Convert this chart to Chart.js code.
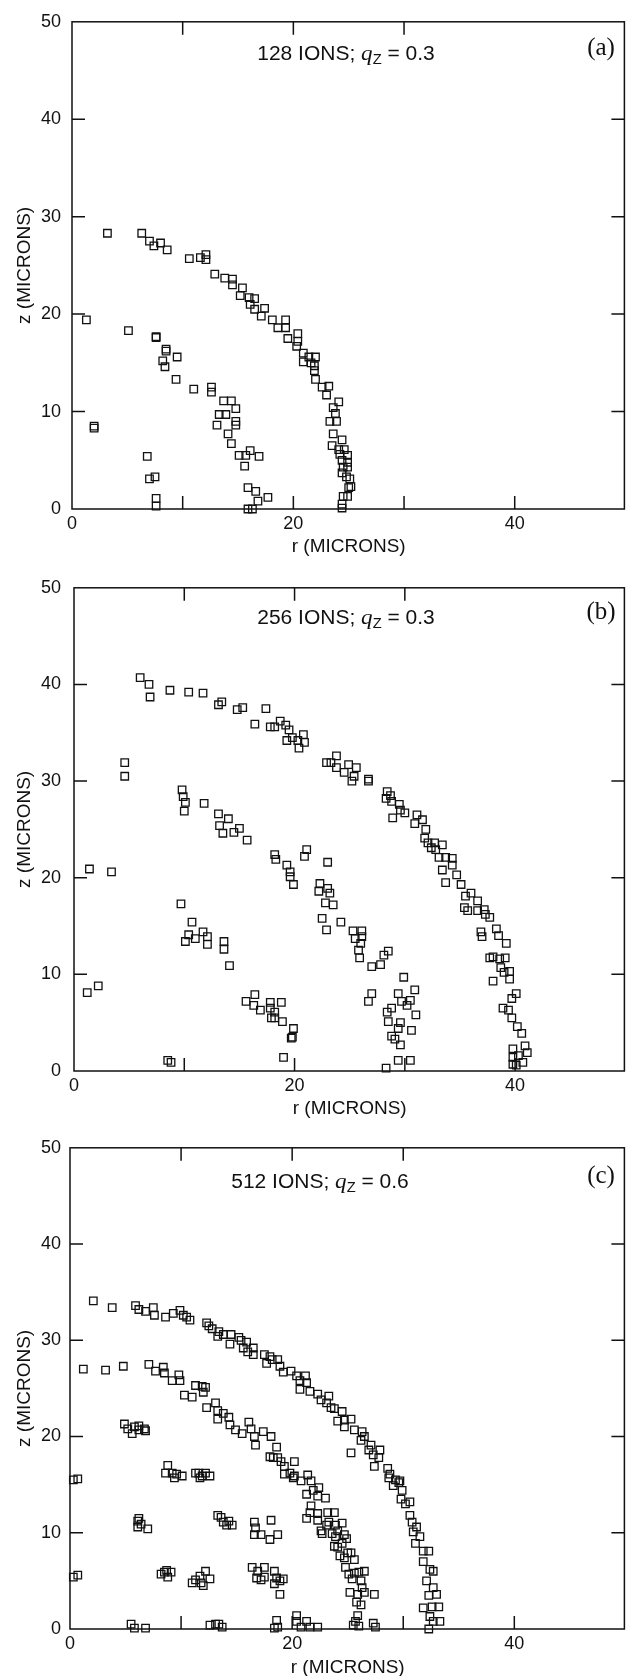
<!DOCTYPE html>
<html>
<head>
<meta charset="utf-8">
<script src="https://cdn.jsdelivr.net/npm/chart.js@4.4.1/dist/chart.umd.min.js"></script>
<style>
    html, body { margin: 0; padding: 0; background: #fff; }
    #page { position: relative; width: 632px; height: 1676px; overflow: hidden; }
    #page canvas { position: absolute; left: 0; }
    .ttl {
        position: absolute; white-space: nowrap; color: #111;
        font: 20px "Liberation Sans", Arial, sans-serif;
        transform: translate(-50%, -50%) scaleX(1.05);
    }
    .ttl i { font-family: "Liberation Serif", serif; font-size: 22px; }
    .ttl sub { font-size: 14px; vertical-align: -4px; }
    .tag {
        position: absolute; color: #111;
        font: 25px "Liberation Serif", serif;
        transform: translate(-50%, -50%);
    }
</style>
</head>
<body>
<div id="page"></div>
<script>
// ion positions [r, z] in microns
const ionsA = [
    [6.3, 28.3], [7.0, 27.5], [7.4, 27.0], [8.0, 27.3], [8.6, 26.6], [10.6, 25.7], [11.6, 25.8],
    [12.1, 26.1], [12.1, 25.6], [12.9, 24.1], [13.8, 23.7], [14.5, 23.6], [14.5, 23.0], [15.4, 22.7],
    [15.2, 21.9], [16.0, 21.7], [16.5, 21.6], [16.1, 21.0], [16.5, 20.5], [17.4, 20.6], [17.1, 19.8],
    [18.1, 19.4], [18.6, 18.6], [19.3, 19.4], [19.3, 18.6], [19.5, 17.5], [20.4, 18.0], [20.4, 17.2],
    [20.3, 16.7], [20.9, 16.0], [20.9, 15.1], [21.4, 15.6], [21.6, 15.0], [22.0, 15.6], [21.9, 14.7],
    [21.9, 14.2], [22.0, 13.3], [22.6, 12.5], [23.2, 12.6], [23.0, 11.7], [23.6, 10.4], [24.1, 11.0],
    [23.8, 9.8], [23.3, 9.0], [23.9, 9.0], [23.6, 7.7], [24.4, 7.1], [23.5, 6.5], [24.1, 6.1],
    [24.2, 5.6], [24.6, 6.1], [24.9, 5.5], [24.4, 5.0], [24.5, 4.3], [24.9, 4.8], [24.9, 4.3],
    [24.4, 3.7], [24.8, 3.3], [25.1, 3.1], [25.2, 2.3], [25.0, 2.2], [24.5, 1.3], [24.9, 1.3],
    [24.4, 0.5], [24.4, 0.1],
    [1.3, 19.4], [5.1, 18.3], [7.6, 17.7], [7.6, 17.6], [8.5, 16.4], [8.5, 16.2], [9.5, 15.6],
    [8.2, 15.2], [8.4, 14.6], [9.4, 13.3], [11.0, 12.3], [12.6, 12.5], [12.6, 12.0], [13.7, 11.1],
    [14.4, 11.1], [14.8, 10.3], [13.3, 9.7], [13.9, 9.7], [13.1, 8.6], [14.8, 9.0], [14.8, 8.6],
    [14.1, 7.7], [14.4, 6.7], [15.1, 5.5], [15.7, 5.5], [16.1, 6.0], [16.9, 5.4], [15.6, 4.4],
    [15.9, 2.2], [16.6, 1.8], [16.8, 0.8], [17.7, 1.2], [15.9, 0.0], [16.3, 0.0],
    [2.0, 8.5], [2.0, 8.3], [6.8, 5.4], [7.0, 3.1], [7.5, 3.3], [7.6, 1.1], [7.6, 0.3], [3.2, 28.3]
];

const ionsB = [
    [6.0, 40.7], [6.8, 40.0], [6.9, 38.7], [8.7, 39.4], [10.4, 39.2], [11.7, 39.1], [13.1, 37.9],
    [13.4, 38.2], [14.8, 37.4], [15.3, 37.6], [16.4, 35.9], [17.4, 37.5], [17.8, 35.6], [18.2, 35.6],
    [18.7, 36.2], [19.2, 35.8], [19.5, 35.3], [19.3, 34.2], [19.8, 34.5], [20.3, 34.2], [20.8, 34.8],
    [20.9, 34.0], [20.4, 33.4], [22.9, 31.9], [23.3, 31.9], [23.8, 32.6], [23.8, 31.4], [24.5, 30.9],
    [24.9, 31.7], [25.6, 31.4], [25.4, 30.5], [25.2, 30.0], [26.7, 30.0], [26.7, 30.2], [28.4, 28.9],
    [28.7, 28.5], [28.3, 28.2], [28.8, 27.9], [29.5, 27.6], [29.6, 27.0], [28.9, 26.2], [30.0, 26.7],
    [31.1, 26.5], [30.9, 25.6], [31.6, 26.0], [31.9, 25.0], [31.8, 24.1], [32.1, 23.6], [32.7, 23.6],
    [32.4, 23.1], [32.8, 22.9], [33.4, 23.4], [33.1, 22.1], [33.7, 22.1], [34.3, 22.0], [34.3, 21.3],
    [33.4, 20.8], [33.7, 19.5], [34.7, 20.3], [35.1, 19.3], [35.5, 18.1], [36.0, 18.4], [35.4, 16.9],
    [35.7, 16.6], [36.6, 16.6], [36.6, 17.6], [37.2, 16.7], [37.3, 16.2], [37.7, 15.9], [36.9, 14.4],
    [37.0, 13.9], [38.3, 14.7], [38.5, 14.0], [39.2, 13.2], [37.7, 11.7], [38.0, 11.8], [38.6, 11.6],
    [39.1, 11.7], [38.7, 10.7], [39.0, 10.2], [39.5, 10.3], [39.5, 9.5], [38.0, 9.3], [39.7, 7.5],
    [38.9, 6.5], [39.4, 6.3], [39.7, 5.5], [39.8, 2.3], [39.8, 1.4], [39.8, 0.7], [40.1, 8.0],
    [40.2, 4.6], [40.6, 3.9], [40.9, 2.6], [40.3, 1.6], [41.1, 1.9], [40.1, 0.6], [40.7, 0.9],
    [4.6, 31.9], [4.6, 30.5], [9.8, 29.1], [9.9, 28.4], [10.1, 27.8], [10.0, 26.9], [11.8, 27.7],
    [13.1, 26.6], [13.2, 25.4], [13.5, 24.6], [14.0, 26.1], [14.5, 24.7], [15.0, 25.1], [15.7, 23.9],
    [18.2, 22.4], [18.3, 21.9], [19.3, 21.3], [19.6, 20.6], [19.6, 20.1], [19.9, 19.3], [20.9, 22.2],
    [21.1, 22.9], [23.0, 21.6], [22.3, 19.4], [22.2, 18.6], [23.0, 18.9], [23.2, 18.4], [22.8, 17.4],
    [23.5, 17.2], [22.5, 15.8], [22.9, 14.6], [24.2, 15.4], [25.3, 14.5], [26.1, 14.5], [25.5, 13.7],
    [26.1, 13.9], [26.0, 13.2], [25.8, 12.5], [25.9, 11.7], [27.0, 10.8], [27.8, 11.0], [28.1, 12.0],
    [28.5, 12.4], [29.9, 9.7], [30.9, 8.4], [27.0, 8.0], [26.7, 7.2], [28.4, 6.1], [28.8, 6.5],
    [29.4, 8.0], [29.7, 7.2], [30.2, 6.8], [30.5, 7.3], [31.0, 5.8], [28.5, 5.1], [29.6, 5.0],
    [29.4, 4.4], [30.6, 4.2], [28.8, 3.6], [29.1, 3.3], [29.6, 2.7], [29.4, 1.1], [30.5, 1.1],
    [28.3, 0.3],
    [1.4, 20.9], [3.4, 20.6], [9.7, 17.3], [10.7, 15.4], [10.4, 14.1], [10.1, 13.4], [11.0, 13.7],
    [11.7, 14.4], [12.1, 13.9], [12.1, 13.1], [13.6, 13.4], [13.6, 12.6], [14.1, 10.9], [15.6, 7.2],
    [16.4, 7.9], [16.3, 6.8], [16.9, 6.3], [17.8, 7.1], [17.8, 6.5], [17.9, 5.5], [18.2, 5.5],
    [18.8, 7.1], [18.2, 6.1], [18.9, 5.1], [19.9, 4.4], [19.7, 3.4], [19.8, 3.5], [19.0, 1.4],
    [1.2, 8.1], [2.2, 8.8], [8.5, 1.1], [8.8, 0.9]
];

const ionsC = [
    [2.1, 34.1], [3.8, 33.4], [5.9, 33.6], [6.2, 33.2], [6.8, 33.0], [7.5, 33.4], [7.6, 32.6],
    [8.6, 32.4], [9.3, 32.8], [9.9, 33.1], [10.2, 32.6], [10.5, 32.4], [10.8, 32.1], [12.3, 31.8],
    [12.5, 31.5], [12.8, 31.2], [13.4, 30.9], [13.3, 30.4], [13.8, 30.6], [14.5, 30.6], [14.4, 29.6],
    [15.2, 30.3], [15.4, 30.0], [15.9, 29.8], [15.6, 29.2], [16.5, 29.2], [16.0, 28.8], [16.5, 28.5],
    [17.5, 28.5], [18.0, 28.3], [17.7, 27.6], [18.2, 28.0], [18.7, 28.0], [18.9, 27.3], [19.2, 26.7],
    [19.9, 26.8], [20.4, 26.3], [20.7, 25.8], [21.2, 26.3], [21.3, 25.6], [20.7, 24.9], [21.6, 24.7],
    [22.3, 24.4], [22.6, 23.8], [23.3, 24.2], [23.1, 23.5], [23.5, 23.0], [23.8, 22.9], [24.5, 22.6],
    [24.1, 21.6], [24.7, 21.7], [25.3, 21.8], [24.7, 21.0], [25.6, 20.7], [26.3, 20.5], [26.2, 19.6],
    [26.5, 20.0], [27.1, 19.1], [26.9, 18.6], [27.3, 18.1], [27.9, 18.6], [27.8, 17.8], [27.4, 16.9],
    [28.6, 16.7], [28.8, 16.1], [29.3, 15.5], [29.7, 15.4], [28.7, 15.7], [29.1, 14.9], [29.6, 15.2],
    [29.9, 14.4], [29.8, 13.5], [30.2, 13.0], [30.6, 13.2], [30.6, 11.8], [30.8, 11.1], [31.2, 10.6],
    [30.9, 10.1], [31.5, 9.6], [31.1, 8.9], [31.8, 8.1], [32.3, 8.1], [31.8, 7.0], [32.4, 6.2],
    [32.7, 6.0], [32.1, 5.0], [32.7, 4.3], [32.3, 3.5], [33.0, 3.6], [31.8, 2.2], [32.6, 2.3],
    [33.2, 2.3], [32.4, 1.3], [32.7, 0.8], [33.3, 0.8], [32.3, 0.0], [25.3, 18.3],
    [1.2, 27.0], [3.2, 26.9], [4.8, 27.3], [7.1, 27.5], [7.7, 26.8], [8.4, 27.2], [8.5, 26.6],
    [9.2, 25.8], [9.8, 26.4], [9.9, 25.8], [10.3, 24.3], [11.0, 24.1], [11.3, 25.3], [11.9, 25.2],
    [12.2, 25.1], [12.0, 24.6], [12.3, 23.0], [13.1, 23.5], [13.3, 22.7], [13.3, 21.8], [13.8, 22.4],
    [14.3, 22.0], [14.4, 21.2], [14.9, 20.7], [15.5, 20.3], [16.1, 21.5], [16.3, 20.8], [16.6, 20.0],
    [16.7, 19.1], [17.4, 20.5], [18.1, 20.0], [18.6, 18.9], [18.0, 17.9], [18.3, 17.8], [18.7, 17.8],
    [19.0, 17.4], [20.2, 17.4], [19.3, 16.9], [19.8, 16.2], [20.2, 15.9], [19.3, 16.1], [21.4, 16.0],
    [21.7, 15.4], [20.1, 15.7], [20.8, 15.4], [21.3, 14.0], [21.9, 14.4], [22.4, 14.7], [22.3, 13.8],
    [23.0, 13.6], [21.7, 12.8], [21.6, 12.1], [22.3, 12.0], [23.2, 12.1], [23.8, 12.1], [21.3, 11.5],
    [22.3, 11.3], [23.3, 11.1], [23.1, 10.8], [23.9, 10.8], [24.5, 11.0], [22.6, 10.2], [22.7, 9.9],
    [23.6, 9.9], [24.1, 10.2], [23.9, 9.6], [24.7, 9.8], [24.9, 9.4], [23.8, 8.6], [24.5, 8.9],
    [24.1, 8.5], [25.0, 7.9], [25.3, 7.9], [25.6, 7.2], [24.7, 7.4], [24.3, 7.6], [24.8, 6.4],
    [25.1, 5.7], [25.6, 5.8], [26.0, 5.9], [25.4, 5.2], [26.5, 6.0], [26.2, 5.0], [26.3, 4.3],
    [25.2, 3.8], [25.9, 3.6], [26.5, 3.8], [27.4, 3.6], [25.8, 2.8], [26.2, 2.5], [25.9, 1.4],
    [25.7, 0.8], [25.5, 0.4], [26.0, 0.3], [27.3, 0.6], [27.5, 0.2],
    [4.9, 21.3], [5.2, 20.8], [5.6, 20.3], [5.8, 21.0], [6.2, 21.1], [6.2, 20.7], [6.8, 20.6],
    [6.7, 20.8], [8.8, 17.0], [8.6, 16.2], [9.2, 16.2], [9.6, 16.1], [9.4, 15.7], [10.1, 15.9],
    [11.3, 16.2], [11.6, 16.2], [11.9, 15.9], [11.7, 15.7], [12.6, 15.9], [12.2, 16.2], [0.7, 15.6],
    [0.3, 15.5], [6.1, 11.2], [6.1, 10.6], [6.4, 10.9], [7.0, 10.4], [6.2, 11.5], [8.2, 5.7],
    [8.5, 5.9], [8.8, 5.4], [9.1, 5.9], [8.7, 6.1], [11.0, 4.8], [11.3, 5.1], [11.7, 5.5],
    [11.8, 4.8], [12.2, 6.0], [12.6, 5.2], [12.0, 4.5], [13.3, 11.8], [13.6, 11.6], [13.8, 11.1],
    [14.3, 11.2], [14.1, 10.8], [14.6, 10.8], [16.6, 11.1], [16.7, 10.5], [17.2, 9.8], [16.6, 9.8],
    [18.1, 11.3], [18.0, 9.3], [18.7, 9.8], [16.4, 6.4], [16.9, 6.0], [17.5, 6.4], [17.5, 5.4],
    [17.2, 5.1], [18.4, 6.0], [18.6, 5.3], [18.9, 5.0], [19.2, 5.2], [18.4, 4.7], [18.9, 3.6],
    [16.8, 5.3], [0.3, 5.4], [0.7, 5.6], [5.5, 0.5], [5.8, 0.1], [6.8, 0.1], [12.6, 0.4],
    [13.1, 0.5], [13.4, 0.5], [13.7, 0.2], [18.6, 0.9], [18.7, 0.2], [18.4, 0.1], [20.4, 1.4],
    [20.4, 0.8], [20.8, 0.2], [21.3, 0.8], [21.6, 0.2], [22.3, 0.2]
];

const ionCounts = ['128', '256', '512'];
const qzValues = ['0.3', '0.3', '0.6'];
const panelTags = ['(a)', '(b)', '(c)'];

const yTicks = [0, 10, 20, 30, 40, 50];
const xLabelTicks = [0, 20, 40];
const sideMarks = [10, 20, 30, 40];
const bottomMarks = [10, 20, 30, 40];
const topMarks = [10, 20, 30];

// page layout of each panel (canvas box and plot frame)
const layouts = [
    { top: 0, height: 562, left: 72, plotTop: 12, plotBottom: 509, titlePad: 4, titleX: 346, tagX: 601 },
    { top: 564, height: 560, left: 74, plotTop: 576, plotBottom: 1071, titlePad: 4, titleX: 346, tagX: 601 },
    { top: 1128, height: 551, left: 70, plotTop: 1140, plotBottom: 1629, titlePad: 0, titleX: 320, tagX: 601 }
];
const ionSets = [ionsA, ionsB, ionsC];

const ink = '#111';
const sans = '"Liberation Sans", Arial, sans-serif';

const framePlugin = {
    id: 'frame',
    beforeDatasetsDraw(chart) {
        const { ctx, chartArea: a, scales: { x, y } } = chart;
        const len = 13;
        ctx.save();
        ctx.strokeStyle = ink;
        ctx.lineWidth = 1.5;
        ctx.strokeRect(a.left, a.top, a.right - a.left - 1, a.bottom - a.top);
        ctx.beginPath();
        sideMarks.forEach(v => {
            const py = y.getPixelForValue(v);
            ctx.moveTo(a.left, py); ctx.lineTo(a.left + len, py);
            ctx.moveTo(a.right - 1, py); ctx.lineTo(a.right - 1 - len, py);
        });
        bottomMarks.forEach(v => {
            const px = x.getPixelForValue(v);
            ctx.moveTo(px, a.bottom); ctx.lineTo(px, a.bottom - len);
        });
        topMarks.forEach(v => {
            const px = x.getPixelForValue(v);
            ctx.moveTo(px, a.top); ctx.lineTo(px, a.top + len);
        });
        ctx.stroke();
        ctx.restore();
    }
};

const page = document.getElementById('page');

layouts.forEach((p, i) => {
    const canvas = document.createElement('canvas');
    canvas.width = 632;
    canvas.height = p.height;
    canvas.style.top = p.top + 'px';
    page.appendChild(canvas);

    new Chart(canvas, {
        type: 'scatter',
        data: {
            datasets: [{
                data: ionSets[i].map(([r, z]) => ({ x: r, y: z })),
                pointStyle: 'rect',
                pointRadius: 5.3,
                borderColor: ink,
                borderWidth: 1.3,
                backgroundColor: 'rgba(0,0,0,0)',
                clip: false
            }]
        },
        options: {
            responsive: false,
            animation: false,
            devicePixelRatio: 1,
            layout: { padding: { top: p.plotTop - p.top, left: 0, right: 0, bottom: 0 } },
            plugins: { legend: { display: false }, tooltip: { enabled: false } },
            scales: {
                x: {
                    type: 'linear', min: 0, max: 50,
                    afterFit: (s) => { s.height = p.height - (p.plotBottom - p.top); },
                    grid: { display: false, drawTicks: false },
                    border: { display: false },
                    ticks: {
                        stepSize: 10, autoSkip: false, maxRotation: 0, padding: 4,
                        color: ink, font: { family: sans, size: 18 },
                        callback: (v) => xLabelTicks.includes(v) ? String(v) : ''
                    },
                    title: {
                        display: true, text: 'r (MICRONS)', color: ink,
                        font: { family: sans, size: 19 },
                        padding: { top: 0, bottom: p.titlePad }
                    }
                },
                y: {
                    type: 'linear', min: 0, max: 50,
                    afterFit: (s) => { s.width = p.left; },
                    grid: { display: false, drawTicks: false },
                    border: { display: false },
                    ticks: {
                        stepSize: 10, autoSkip: false, padding: p.left - 61,
                        color: ink, font: { family: sans, size: 18 },
                        callback: (v) => yTicks.includes(v) ? String(v) : ''
                    },
                    title: {
                        display: true, text: 'z (MICRONS)', color: ink,
                        font: { family: sans, size: 19 },
                        padding: { top: 13, bottom: 0 }
                    }
                }
            }
        },
        plugins: [framePlugin]
    });

    const title = document.createElement('div');
    title.className = 'ttl';
    title.style.left = p.titleX + 'px';
    title.style.top = (p.plotTop + 41) + 'px';
    title.innerHTML = ionCounts[i] + ' IONS; <i>q</i><sub>Z</sub> = ' + qzValues[i];
    page.appendChild(title);

    const tag = document.createElement('div');
    tag.className = 'tag';
    tag.style.left = p.tagX + 'px';
    tag.style.top = (p.plotTop + 35) + 'px';
    tag.textContent = panelTags[i];
    page.appendChild(tag);
});
</script>
</body>
</html>
